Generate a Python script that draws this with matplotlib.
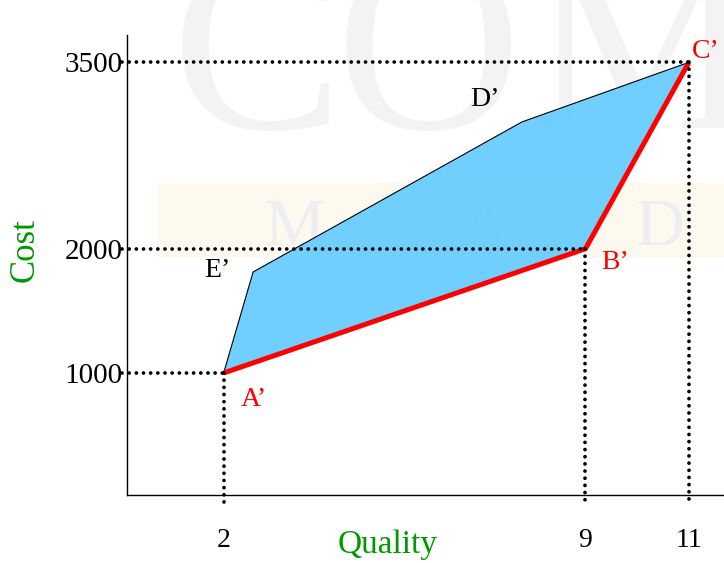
import matplotlib
matplotlib.use("Agg")
import matplotlib.pyplot as plt
from matplotlib.patches import Polygon, Rectangle

# --- data ---
point_names = ["A\u2019", "B\u2019", "C\u2019"]
quality = [2, 9, 11]            # A', B', C'
cost = [1000, 2000, 3500]
# full feasible region outline: A' -> E' -> D' -> C' -> B'
region_quality = [2, 2.57, 7.77, 11, 9]
region_cost = [1000, 1813, 3020, 3500, 2000]
upper_names = ["E\u2019", "D\u2019"]
upper_quality = [2.57, 7.77]
upper_cost = [1813, 3020]
xticks = [2, 9, 11]
yticks = [1000, 2000, 3500]

plt.rcParams['font.family'] = ['Liberation Serif', 'DejaVu Serif']

fig = plt.figure(figsize=(7.24, 5.63), dpi=100)
W, H = 724, 563

# background watermark
fig.patches.append(Rectangle((157 / W, 1 - 258 / H), (W - 157) / W, 75 / H,
                             transform=fig.transFigure, facecolor="#fdf9ee",
                             edgecolor="none", zorder=-3))
for ch, xp in [("C", 172), ("O", 335), ("M", 530)]:
    fig.text(xp / W, 1 - 128 / H, ch, fontsize=185, color="#f3f3f3",
             ha="left", va="baseline", zorder=-2)
for ch, xp in [("M", 295), ("A", 485), ("D", 660)]:
    fig.text(xp / W, 1 - 245 / H, ch, fontsize=49, color="#eceef2",
             ha="center", va="baseline", zorder=-2)

ax = fig.add_axes([127 / W, 1 - 495 / H, (W - 127) / W, 460 / H])
ax.set_facecolor("none")
ax.set_xlim(0.13, 11.68)
ax.set_ylim(18, 3720)

for s in ["top", "right"]:
    ax.spines[s].set_visible(False)
for s in ["left", "bottom"]:
    ax.spines[s].set_linewidth(1.0)

# filled region
poly = Polygon(list(zip(region_quality, region_cost)), closed=True,
               facecolor="#66ccff", edgecolor="none", alpha=0.93, zorder=2)
ax.add_patch(poly)
# upper black edge A'-E'-D'-C'
ax.plot(region_quality[:4], region_cost[:4], color="black", lw=0.8, zorder=3)
# red efficient frontier A'-B'-C'
ax.plot(quality, cost, color="#ff0000", lw=3.6, zorder=4,
        solid_joinstyle="miter", solid_capstyle="butt")

# dotted guide lines
dot = dict(color="black", lw=2.7, linestyle=(0, (0.01, 1.9)),
           dash_capstyle="round", clip_on=False, zorder=5)
for q, c in zip(quality, cost):
    ax.plot([0.03, q], [c, c], **dot)
    ax.plot([q, q], [c, -62], **dot)

# point labels
offs = {"A\u2019": (12, -19, "left"), "B\u2019": (11, -10, "left"),
        "C\u2019": (2, 8, "left")}
for n, q, c in zip(point_names, quality, cost):
    dx, dy, ha = offs[n]
    ax.annotate(n, (q, c), xytext=(dx, dy), textcoords="offset points",
                ha=ha, va="center", fontsize=20, color="#ff0000", zorder=6)
uoffs = {"E\u2019": (-16, 1), "D\u2019": (-16, 16)}
for n, q, c in zip(upper_names, upper_quality, upper_cost):
    dx, dy = uoffs[n]
    ax.annotate(n, (q, c), xytext=(dx, dy), textcoords="offset points",
                ha="right", va="center", fontsize=20, color="black", zorder=6)

ax.set_xticks(xticks)
ax.set_xticklabels([str(v) for v in xticks], fontsize=20)
ax.set_yticks(yticks)
ax.set_yticklabels([str(v) for v in yticks], fontsize=21)
ax.tick_params(axis="x", length=0, pad=24)
ax.tick_params(axis="y", length=0, pad=3)

fig.text(388 / W, 1 - 545 / H, "Quality", fontsize=24, color="#009900",
         ha="center", va="center")
fig.text(25 / W, 1 - 250 / H, "Cost", fontsize=25, color="#009900",
         ha="center", va="center", rotation=90)

fig.savefig("out.png", dpi=100)
